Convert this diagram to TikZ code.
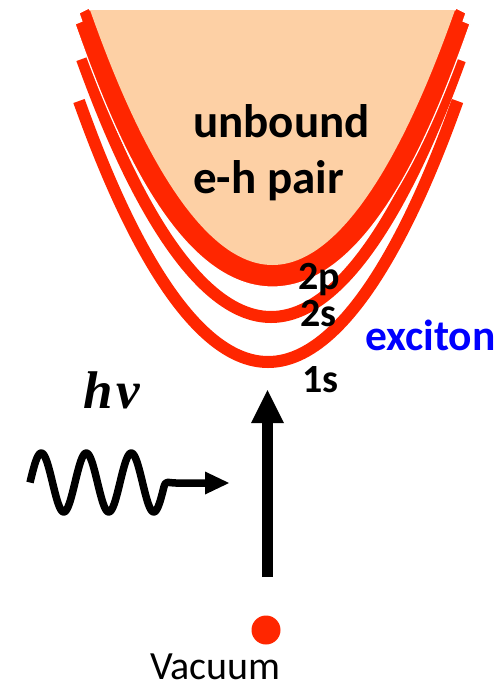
\documentclass[tikz,border=0pt]{standalone}
\usepackage{fontspec}
\setmainfont{Carlito}
\newfontfamily\hnufont{Liberation Serif}
\usetikzlibrary{arrows.meta}
\definecolor{lvlred}{RGB}{255,38,0}
\definecolor{peach}{RGB}{253,208,165}
\definecolor{exblue}{RGB}{0,0,255}
\tikzset{
  levelline/.style={draw=lvlred, line width=12pt},
  lvllbl/.style={anchor=base west, inner sep=0pt, font=\fontsize{40}{48}\selectfont\bfseries},
  bigtxt/.style={anchor=base west, inner sep=0pt, font=\fontsize{47}{56}\selectfont\bfseries},
  photon/.style={draw=black, line width=7.5pt, line join=round, -{Triangle[length=24pt,width=23pt,line width=0pt]}},
  pump/.style={draw=black, line width=11pt, -{Triangle[length=33pt,width=33pt,line width=0pt]}}
}
\begin{document}
\begin{tikzpicture}[x=1pt,y=-1pt]
\useasboundingbox (0,0) rectangle (500,689);
% 1s level
\draw[levelline] (79,101) parabola bend (268,362) (457.5,101);
% 2s level
\draw[levelline] (82,59) parabola bend (271,317) (460,60);
% continuum edge with 2p level
\path[fill=lvlred, draw=white, line width=1.2pt]
  (90,10) -- (89,8) -- (79,13) -- (81.8,21.2) -- (75,24)
  .. controls (105,108) and (170,287) .. (272.5,287)
  .. controls (375,287) and (440,108) .. (470,24)
  -- (463.2,21.2) -- (466,13) -- (456,8) -- (455,10) -- cycle;
% unbound continuum
\fill[peach] (90,10) parabola bend (272.5,265) (455,10) -- cycle;
% texts
\node[bigtxt] (unbound) at (193,137) {unbound};
\node[bigtxt] (ehpair) at (193,193) {e-h pair};
\node[lvllbl] (l2p) at (298,289) {2p};
\node[lvllbl] (l2s) at (300,326) {2s};
\node[lvllbl] (l1s) at (302,392) {1s};
\node[anchor=base west, inner sep=0pt, font=\fontsize{43.5}{52}\selectfont\bfseries, text=exblue] (exciton) at (365,350) {exciton};
\node[anchor=base west, inner sep=0pt, font=\hnufont\fontsize{53}{60}\selectfont\bfseries\itshape] (hnu) at (83,408) {h\kern3.5pt ν};
\node[anchor=base west, inner sep=0pt, text depth=0pt, font=\fontsize{40}{48}\selectfont] (vacuum) at (150,679) {Vacuum};
% vacuum state
\node[circle, fill=lvlred, minimum size=29pt, inner sep=0pt] (vac) at (266,630) {};
% optical excitation
\coordinate (pumpS) at (267.5,577);
\coordinate (pumpE) at (267.5,390);
\draw[pump] (pumpS) -- (pumpE);
% photon
\coordinate (phEnd) at (229,483);
\draw[photon] plot[domain=30:164, samples=140, smooth] (\x, {482.5 - 29.5*sin(8*(\x-30))})
  .. controls (166,480) and (168,483) .. (176,483) -- (phEnd);
\end{tikzpicture}
\end{document}
